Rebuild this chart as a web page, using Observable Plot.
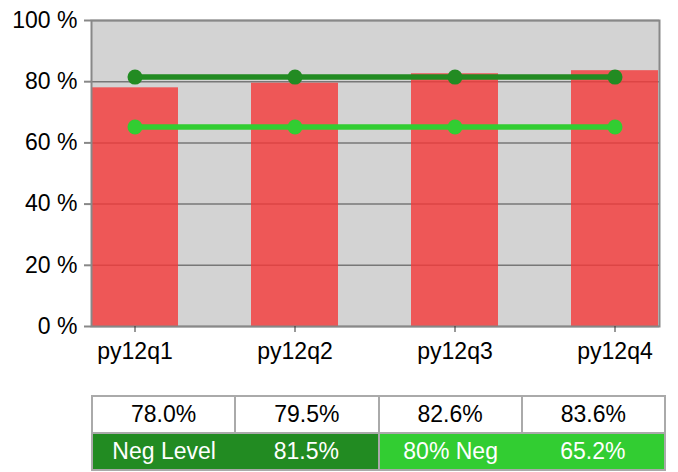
<!DOCTYPE html>
<html>
<head>
<meta charset="utf-8">
<script src="https://cdn.jsdelivr.net/npm/d3@7"></script>
<script src="https://cdn.jsdelivr.net/npm/@observablehq/plot@0.6"></script>
<style>
  body { margin: 0; background: #fff; font-family: "Liberation Sans", Arial, sans-serif; }
  #chart { position: absolute; left: 0; top: 0; }
  #chart svg .yax text { font-size: 23px; }
  #chart svg .xax text { font-size: 23px; }
  table { position: absolute; left: 91px; top: 395px; border-collapse: collapse; width: 575px; table-layout: fixed; font-size: 23px; }
  td { text-align: center; height: 35px; padding: 0; border: 2px solid #aaa; }
  .white td { background: #fff; color: #000; }
  .dark { background: #228b22; color: #fff; }
  .lime { background: #32cd32; color: #fff; }
  .dl { border-right: none; } .dr { border-left: none; }
</style>
</head>
<body>
<div id="chart"></div>
<table>
  <tr class="white" id="row1"></tr>
  <tr id="row2"></tr>
</table>
<script>
const quarters = ["py12q1", "py12q2", "py12q3", "py12q4"];
const values = [78.0, 79.5, 82.6, 83.6];
const negLevel = 81.5;
const neg80 = 65.2;
const yTicks = [0, 20, 40, 60, 80, 100];

const bars = quarters.map((q, i) => ({q, v: values[i]}));
const lineDark = quarters.map(q => ({q, v: negLevel}));
const lineLime = quarters.map(q => ({q, v: neg80}));

const chart = Plot.plot({
  width: 678,
  height: 385,
  marginLeft: 91,
  marginRight: 19,
  marginTop: 20,
  marginBottom: 59,
  style: {fontFamily: "Liberation Sans, Arial, sans-serif", color: "#000", background: "transparent"},
  x: {type: "band", domain: quarters, paddingInner: 0.456, paddingOuter: 0, label: null},
  y: {domain: [0, 100], label: null},
  marks: [
    Plot.frame({fill: "#d3d3d3", stroke: null}),
    Plot.gridY(yTicks, {stroke: "#777", strokeOpacity: 1, strokeWidth: 1.5}),
    Plot.barY(bars, {x: "q", y: "v", fill: "rgb(245,56,56)", fillOpacity: 0.8}),
    Plot.frame({stroke: "#888", strokeWidth: 2}),
    Plot.axisY(yTicks, {tickFormat: d => d + " %", tickSize: 7, tickPadding: 7, stroke: "#888", strokeWidth: 2, className: "yax"}),
    Plot.axisX({tickSize: 6, tickPadding: 10, stroke: "#333", className: "xax"}),
    Plot.line(lineLime, {x: "q", y: "v", stroke: "#32cd32", strokeWidth: 5.5}),
    Plot.dot(lineLime, {x: "q", y: "v", fill: "#32cd32", r: 7.5}),
    Plot.line(lineDark, {x: "q", y: "v", stroke: "#228b22", strokeWidth: 5.5}),
    Plot.dot(lineDark, {x: "q", y: "v", fill: "#228b22", r: 7.5})
  ]
});
document.getElementById("chart").appendChild(chart);

const fmt = v => v.toFixed(1) + "%";
const row1 = document.getElementById("row1");
values.forEach(v => { const td = document.createElement("td"); td.textContent = fmt(v); row1.appendChild(td); });
const row2 = document.getElementById("row2");
[["Neg Level", "dark dl"], [fmt(negLevel), "dark dr"], ["80% Neg", "lime dl"], [fmt(neg80), "lime dr"]].forEach(([t, c]) => {
  const td = document.createElement("td"); td.textContent = t; td.className = c; row2.appendChild(td);
});
</script>
</body>
</html>
